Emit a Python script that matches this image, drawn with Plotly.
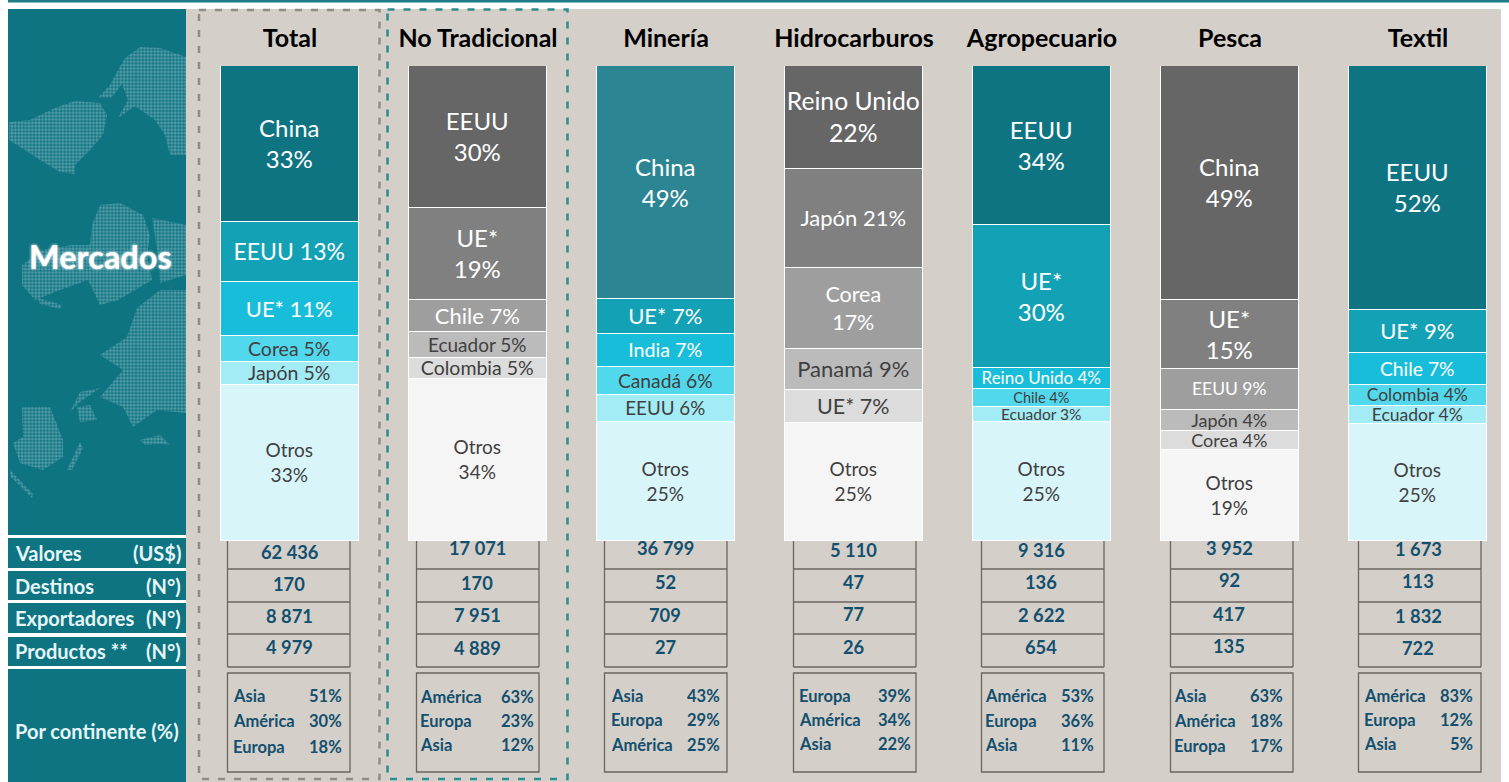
import plotly.graph_objects as go

W, H = 1509, 782
FONT = "Lato"

# ---------- data ----------
categories = ["Total", "No Tradicional", "Minería", "Hidrocarburos", "Agropecuario", "Pesca", "Textil"]

# Segment heights (share of each column, top to bottom)
seg1 = [32.9, 29.9, 49.0, 21.7, 33.5, 49.3, 51.4]
seg2 = [12.6, 19.4, 7.4, 20.8, 30.1, 14.5, 9.1]
seg3 = [11.4, 6.7, 6.9, 17.0, 4.4, 8.6, 6.7]
seg4 = [5.5, 5.5, 5.9, 8.8, 3.8, 4.4, 4.4]
seg5 = [4.8, 4.4, 5.7, 6.8, 3.2, 4.0, 3.8]
seg6 = [32.8, 34.1, 25.1, 24.9, 25.0, 19.2, 24.6]

label1 = ["China<br>33%", "EEUU<br>30%", "China<br>49%", "Reino Unido<br>22%", "EEUU<br>34%", "China<br>49%", "EEUU<br>52%"]
label2 = ["EEUU 13%", "UE*<br>19%", "UE* 7%", "Japón 21%", "UE*<br>30%", "UE*<br>15%", "UE* 9%"]
label3 = ["UE* 11%", "Chile 7%", "India 7%", "Corea<br>17%", "Reino Unido 4%", "EEUU 9%", "Chile 7%"]
label4 = ["Corea 5%", "Ecuador 5%", "Canadá 6%", "Panamá 9%", "Chile 4%", "Japón 4%", "Colombia 4%"]
label5 = ["Japón 5%", "Colombia 5%", "EEUU 6%", "UE* 7%", "Ecuador 3%", "Corea 4%", "Ecuador 4%"]
label6 = ["Otros<br>33%", "Otros<br>34%", "Otros<br>25%", "Otros<br>25%", "Otros<br>25%", "Otros<br>19%", "Otros<br>25%"]

valores = ["62 436", "17 071", "36 799", "5 110", "9 316", "3 952", "1 673"]
destinos = ["170", "170", "52", "47", "136", "92", "113"]
exportadores = ["8 871", "7 951", "709", "77", "2 622", "417", "1 832"]
productos = ["4 979", "4 889", "27", "26", "654", "135", "722"]

cont_names = [
    ["Asia", "América", "Europa"],
    ["América", "Europa", "Asia"],
    ["Asia", "Europa", "América"],
    ["Europa", "América", "Asia"],
    ["América", "Europa", "Asia"],
    ["Asia", "América", "Europa"],
    ["América", "Europa", "Asia"],
]
cont_pcts = [
    ["51%", "30%", "18%"],
    ["63%", "23%", "12%"],
    ["43%", "29%", "25%"],
    ["39%", "34%", "22%"],
    ["53%", "36%", "11%"],
    ["63%", "18%", "17%"],
    ["83%", "12%", "5%"],
]

row_titles = ["Valores", "Destinos", "Exportadores", "Productos **"]
row_units = ["(US$)", "(N°)", "(N°)", "(N°)"]

# ---------- styles ----------
TEAL = ["#0f7482", "#13a1b5", "#18bed9", "#52d8ec", "#a3ecf5", "#d8f5fa"]
GRAY = ["#666666", "#808080", "#9e9e9e", "#bbbbbb", "#dcdcdc", "#f5f5f5"]
palette = [TEAL, GRAY, ["#2c8592"] + TEAL[1:], GRAY, TEAL, GRAY, TEAL]
LIGHT, DARK = "#ffffff", "#404040"
text_colors = [[LIGHT, LIGHT, LIGHT, DARK, DARK, DARK] for _ in categories]
text_sizes = [
    [24, 23, 22, 19.5, 19.5, 19],
    [24, 24, 22, 19, 19.5, 19],
    [24, 22, 19.7, 19.3, 18.8, 19],
    [24.7, 22, 21.5, 22, 21.5, 19],
    [24, 24, 17, 14.5, 15.5, 19],
    [24, 24, 17.5, 18, 18, 19],
    [24, 22, 19.3, 17.5, 17.5, 19],
]

BG = "#d4cfc9"
PANEL = "#0f7482"
TABLE_TEXT = "#134f6e"
TABLE_LINE = "#6b665e"
ROW_TEXT = "#e6f6f8"

table_left = [227.5, 416.5, 604.5, 793.5, 981.5, 1170.5, 1358.5]
table_width = 122.5
row_lines = [569, 602, 634, 667]
value_x = [289, 477, 665, 853, 1041, 1229, 1418]
value_y = [
    [552, 548, 548, 550, 550, 548, 549],
    [584, 583, 582, 582, 582, 580, 581],
    [616, 615, 615, 614, 615, 614, 616],
    [647, 648, 647, 647, 647, 646, 648],
]
cont_left = [233, 420, 611, 799, 985, 1174, 1364]
cont_right = [342, 534, 720, 911, 1094, 1283, 1473]
cont_y = [
    [696, 721, 747],
    [697, 721, 745],
    [696, 720, 745],
    [696, 720, 744],
    [696, 721, 745],
    [696, 721, 746],
    [696, 720, 744],
]
panel_rows = [(538, 568), (571, 600), (603, 633), (637, 666)]

# Decorative world-map silhouette behind "Mercados" (page pixels)
map_shapes = [
    [(9,122),(30,120),(55,108),(75,101),(100,103),(107,115),(103,135),(90,150),(75,165),(75,174),(60,172),(40,160),(25,150),(9,140)],
    [(186,57),(160,48),(140,47),(125,58),(118,70),(110,85),(98,98),(112,97),(122,84),(128,100),(118,118),(135,106),(155,120),(165,135),(170,155),(186,155)],
    [(100,205),(120,203),(143,215),(150,235),(147,255),(152,280),(118,300),(100,305),(88,280),(60,290),(35,300),(22,285),(22,265),(42,250),(72,245),(90,245),(92,225)],
    [(152,218),(186,225),(186,275),(160,283),(158,255)],
    [(137,308),(127,337),(100,355),(123,370),(100,397),(123,407),(133,427),(157,410),(186,413),(186,290),(160,290)],
    [(22,407),(50,407),(63,440),(63,457),(43,470),(20,463),(13,443),(23,437)],
    [(67,470),(80,442),(83,448),(72,470)],
    [(38,298),(62,305),(60,309),(40,304)],
    [(10,470),(33,494),(32,498),(10,476)],
    [(77,407),(90,405),(97,420),(80,422)],
    [(70,412),(80,392),(100,388),(80,402)],
    [(140,440),(160,435),(170,445),(160,444),(145,445)],
]

# ---------- helpers ----------
def px(x): return x / W
def py(y): return 1 - y / H

def rect(x0, y0, x1, y1, fill=None, line=None, width=0, dash=None, layer="below"):
    return dict(type="rect", xref="paper", yref="paper", x0=px(x0), x1=px(x1), y0=py(y0), y1=py(y1),
                fillcolor=fill or "rgba(0,0,0,0)", layer=layer,
                line=dict(color=line or "rgba(0,0,0,0)", width=width, dash=dash or "solid"))

def seg(x0, y0, x1, y1, color=TABLE_LINE, width=1.3):
    return dict(type="line", xref="paper", yref="paper", x0=px(x0), x1=px(x1), y0=py(y0), y1=py(y1),
                layer="below", line=dict(color=color, width=width))

def note(x, y, text, size, color, anchor="center", bold=True, shadow=None):
    font = dict(family=FONT, size=size, color=color, weight=700 if bold else 400)
    if shadow:
        font["shadow"] = shadow
    return dict(xref="paper", yref="paper", x=px(x), y=py(y), text=text, showarrow=False,
                xanchor=anchor, yanchor="middle", font=font, borderpad=0, borderwidth=0)

# ---------- figure ----------
fig = go.Figure()

series = [seg1, seg2, seg3, seg4, seg5, seg6]
labels = [label1, label2, label3, label4, label5, label6]
for i, (vals, txt) in enumerate(zip(series, labels)):
    fig.add_trace(go.Bar(
        x=categories, y=vals, text=txt, width=0.735,
        marker=dict(color=[p[i] for p in palette], line=dict(color="#ffffff", width=1.5)),
        textposition="inside", insidetextanchor="middle", textangle=0, constraintext="none",
        textfont=dict(family=FONT, color=[c[i] for c in text_colors], size=[s[i] for s in text_sizes]),
        hoverinfo="skip", showlegend=False, cliponaxis=False,
    ))

mx, my = [], []
for poly in map_shapes:
    mx += [p[0] for p in poly] + [poly[0][0], None]
    my += [p[1] for p in poly] + [poly[0][1], None]
fig.add_trace(go.Scatter(
    x=mx, y=my, xaxis="x2", yaxis="y2", mode="none", fill="toself", hoverinfo="skip", showlegend=False,
    fillcolor="rgba(0,0,0,0)",
    fillpattern=dict(shape=".", size=3.4, solidity=0.6, fgcolor="#8fc0c7", bgcolor="rgba(0,0,0,0)"),
))

shapes = [
    rect(8, 0, W, 2.5, fill="#1d7c88"),
    rect(186, 9, 1501, H, fill=BG),
    rect(8, 9, 186, 535, fill=PANEL),
    rect(8, 669, 186, H, fill=PANEL),
]
for y0, y1 in panel_rows:
    shapes.append(rect(8, y0, 186, y1, fill=PANEL))

shapes.append(rect(199, 10, 379.5, 779, line="#928d83", width=2.5, dash="7px,9px"))
shapes.append(rect(387.5, 9.5, 567.5, 779, line="#2f8a91", width=2.5, dash="7px,9px"))

for left in table_left:
    right = left + table_width
    shapes.append(seg(left, 541, left, row_lines[-1]))
    shapes.append(seg(right, 541, right, row_lines[-1]))
    for y in row_lines:
        shapes.append(seg(left, y, right, y))
    shapes.append(rect(left, 673, right, 772, line=TABLE_LINE, width=1.3))

ann = [note(100.5, 256, "Mercados", 32.5, "#ffffff", shadow="0 0 3px #ffffff")]
centers = [552.5, 585.5, 618, 651]
for title, unit, yc in zip(row_titles, row_units, centers):
    ann.append(note(15, yc, title, 20, ROW_TEXT, "left"))
    ann.append(note(181, yc, unit, 20, ROW_TEXT, "right"))
ann.append(note(15, 731, "Por continente (%)", 20, ROW_TEXT, "left"))

for r, rows in enumerate([valores, destinos, exportadores, productos]):
    for c, val in enumerate(rows):
        ann.append(note(value_x[c], value_y[r][c], val, 18.3, TABLE_TEXT))

for c in range(len(categories)):
    for k in range(3):
        ann.append(note(cont_left[c], cont_y[c][k], cont_names[c][k], 16.5, TABLE_TEXT, "left"))
        ann.append(note(cont_right[c], cont_y[c][k], cont_pcts[c][k], 16.5, TABLE_TEXT, "right"))

fig.update_layout(
    width=W, height=H, margin=dict(l=0, r=0, t=0, b=0, autoexpand=False),
    paper_bgcolor="#ffffff", plot_bgcolor="rgba(0,0,0,0)",
    barmode="stack", bargap=0, showlegend=False,
    shapes=shapes, annotations=ann,
    xaxis=dict(domain=[px(196), 1], range=[-0.5, 6.484], type="category", categoryorder="array",
               categoryarray=categories, side="top", showgrid=False, zeroline=False, showline=False,
               ticks="outside", ticklen=8, tickcolor="rgba(0,0,0,0)", automargin=False,
               tickfont=dict(family=FONT, size=25, color="#000000", weight=700)),
    yaxis=dict(domain=[py(541), py(66)], range=[100, 0], visible=False, automargin=False),
    xaxis2=dict(domain=[0, px(186)], range=[0, 186], visible=False, anchor="y2"),
    yaxis2=dict(domain=[py(535), py(9)], range=[535, 9], visible=False, anchor="x2"),
)

fig.write_html("out.html", post_script="document.body.style.margin='0';document.body.style.overflow='hidden';",
               config=dict(displayModeBar=False))
